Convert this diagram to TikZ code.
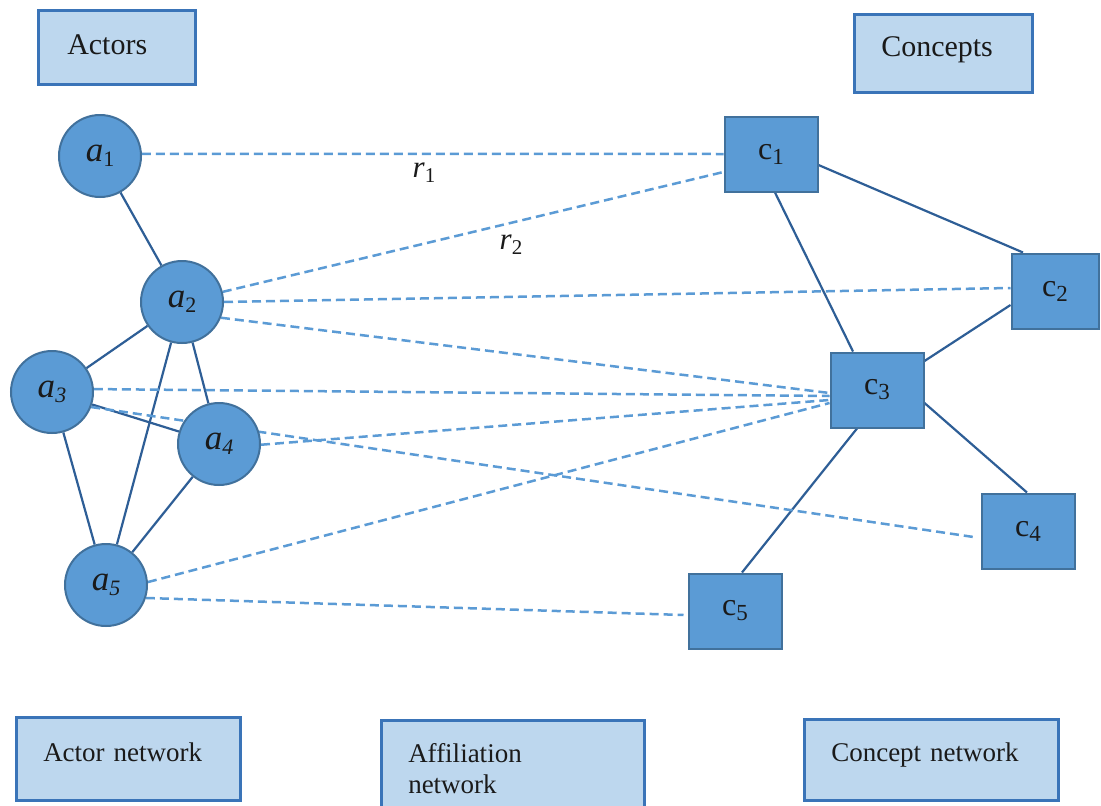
\documentclass[tikz,border=0pt]{standalone}
\usepackage{fontspec}
\setmainfont{Liberation Serif}
\usetikzlibrary{calc}
\pgfdeclarelayer{paper}
\pgfdeclarelayer{edges}
\pgfsetlayers{paper,edges,main}

\definecolor{nodefill}{HTML}{5B9BD5}
\definecolor{nodeline}{HTML}{41719C}
\definecolor{tagfill}{HTML}{BDD7EE}
\definecolor{tagline}{HTML}{3A74B8}
\definecolor{tiecol}{HTML}{2E5E96}
\definecolor{affilcol}{HTML}{5B9BD5}
\definecolor{ink}{HTML}{1A1A1A}

% node labels: italic a / upright c / italic r with lowered index
\newcommand{\alab}[1]{{\fontsize{35}{35}\selectfont\itshape a}\raisebox{-5pt}{\fontsize{22}{22}\selectfont #1}}
\newcommand{\alabit}[1]{{\fontsize{35}{35}\selectfont\itshape a}\raisebox{-5pt}{\fontsize{22}{22}\selectfont\itshape #1}}
\newcommand{\clab}[1]{{\fontsize{32}{32}\selectfont c}\raisebox{-5pt}{\fontsize{23}{23}\selectfont #1}}
\newcommand{\rlab}[1]{{\fontsize{31}{31}\selectfont\itshape r}\raisebox{-5pt}{\fontsize{21}{21}\selectfont #1}}

\tikzset{
  actor/.style={circle, draw=nodeline, fill=nodefill, line width=2pt,
    minimum size=82pt, inner sep=0pt, text=ink},
  concept/.style={rectangle, draw=nodeline, fill=nodefill, line width=2pt,
    minimum width=93pt, minimum height=75pt, inner sep=0pt, text=ink},
  tag/.style={rectangle, draw=tagline, fill=tagfill, line width=2.5pt,
    anchor=north west, inner xsep=27pt, inner ysep=0pt, align=left,
    text=ink, font=\fontsize{27}{31}\selectfont},
  tie/.style={draw=tiecol, line width=2.2pt},
  affil/.style={draw=affilcol, line width=2.5pt, dash pattern=on 9pt off 5pt},
  rel/.style={text=ink, inner sep=0pt}
}

\begin{document}
\begin{tikzpicture}[x=1pt, y=-1pt]
  \useasboundingbox (0,0) rectangle (1101,806);
  \begin{pgfonlayer}{paper}
    \fill[white] (0,0) rectangle (1101,806);
  \end{pgfonlayer}
  \clip (0,0) rectangle (1101,806);

  % title boxes
  \node[tag, font=\fontsize{30}{30}\selectfont, inner xsep=29pt,
        text width=99pt, text height=44pt, text depth=30pt] (actors) at (37,9) {Actors};
  \node[tag, font=\fontsize{30}{30}\selectfont,
        text width=124pt, text height=42pt, text depth=36pt] (concepts) at (853,13) {Concepts};
  \node[tag, text width=170pt, text height=44pt, text depth=39pt] (actnet) at (15,716) {Actor network};
  \node[tag, text width=209pt, text height=42pt, text depth=100pt] (affnet) at (380,719) {Affiliation\\network};
  \node[tag, text width=200pt, text height=42pt, text depth=39pt] (connet) at (803,718) {Concept network};

  % actors
  \node[actor] (a1) at (100,156) {\alab{1}};
  \node[actor] (a2) at (182,302) {\alab{2}};
  \node[actor] (a3) at (52,392) {\alabit{3}};
  \node[actor] (a4) at (219,444) {\alabit{4}};
  \node[actor] (a5) at (106,585) {\alabit{5}};

  % concepts
  \node[concept] (c1) at (771,154) {\clab{1}};
  \node[concept, minimum width=87pt] (c2) at (1055,291) {\clab{2}};
  \node[concept] (c3) at (877,390) {\clab{3}};
  \node[concept] (c4) at (1028,531) {\clab{4}};
  \node[concept] (c5) at (735,611) {\clab{5}};

  % relation labels
  \node[rel] (r1) at (424,173) {\rlab{1}};
  \node[rel] (r2) at (511,245) {\rlab{2}};

  \begin{pgfonlayer}{edges}
    % actor network
    \draw[tie] (a1) -- (a2);
    \draw[tie] (a2) -- (a3);
    \draw[tie] (a2) -- (a4);
    \draw[tie] (a2) -- (a5);
    \draw[tie] (a3) -- (a4);
    \draw[tie] (a3) -- (a5);
    \draw[tie] (a4) -- (a5);

    % concept network
    \draw[tie] ($(c1.east)+(0,11)$) -- ($(c2.north)+(-32,0)$);
    \draw[tie] ($(c1.south)+(4,0)$) -- ($(c3.north)+(-24,0)$);
    \draw[tie] ($(c2.west)+(0,14)$) -- ($(c3.east)+(0,-29)$);
    \draw[tie] ($(c3.east)+(0,13)$) -- ($(c4.north)+(-1,0)$);
    \draw[tie] ($(c3.south)+(-20,0)$) -- ($(c5.north)+(7,0)$);

    % affiliation network
    \draw[affil] (a1.3) -- (c1.west);
    \draw[affil] (a2.14) -- ($(c1.west)+(0,18)$);
    \draw[affil] (a2.0) -- ($(c2.west)+(0,-3)$);
    \draw[affil] (a2.338) -- ($(c3.west)+(0,3)$);
    \draw[affil] (a3.4) -- ($(c3.west)+(0,6)$);
    \draw[affil] (a3.339) -- ($(c4.west)+(-7,6)$);
    \draw[affil] (a4.359) -- ($(c3.west)+(0,10)$);
    \draw[affil] (a5.4) -- ($(c3.west)+(0,13)$);
    \draw[affil] (a5.342) -- ($(c5.west)+(-4,4)$);
  \end{pgfonlayer}
\end{tikzpicture}
\end{document}
